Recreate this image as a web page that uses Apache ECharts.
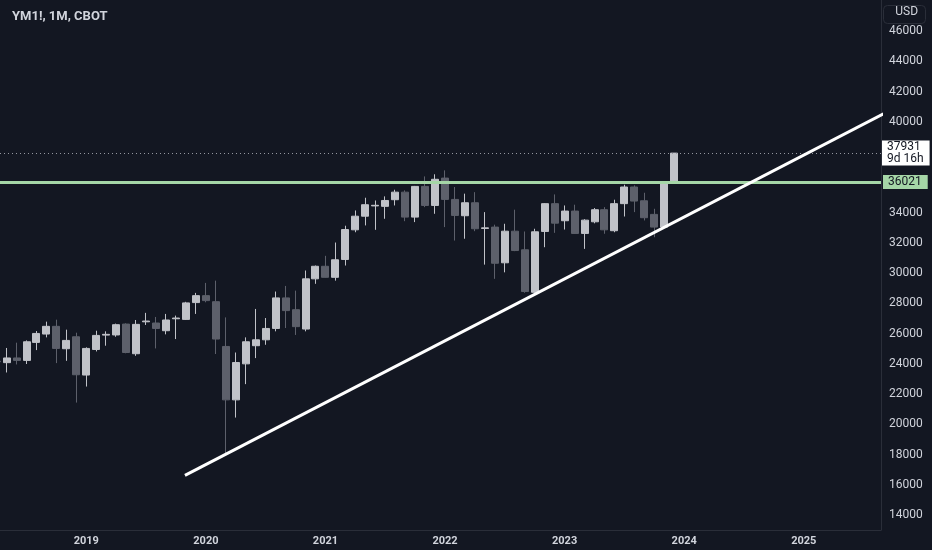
<!DOCTYPE html>
<html>
<head>
<meta charset="utf-8">
<script src="https://cdn.jsdelivr.net/npm/echarts@6/dist/echarts.min.js"></script>
<style>
html,body{margin:0;padding:0;background:#131722;}
#c{width:932px;height:550px;}
</style>
</head>
<body>
<div id="c"></div>
<script>
// ---- data (monthly candles, YM1! CBOT) ----
const months = ['2018-04','2018-05','2018-06','2018-07','2018-08','2018-09','2018-10','2018-11','2018-12',
'2019-01','2019-02','2019-03','2019-04','2019-05','2019-06','2019-07','2019-08','2019-09','2019-10','2019-11','2019-12',
'2020-01','2020-02','2020-03','2020-04','2020-05','2020-06','2020-07','2020-08','2020-09','2020-10','2020-11','2020-12',
'2021-01','2021-02','2021-03','2021-04','2021-05','2021-06','2021-07','2021-08','2021-09','2021-10','2021-11','2021-12',
'2022-01','2022-02','2022-03','2022-04','2022-05','2022-06','2022-07','2022-08','2022-09','2022-10','2022-11','2022-12',
'2023-01','2023-02','2023-03','2023-04','2023-05','2023-06','2023-07','2023-08','2023-09','2023-10','2023-11','2023-12'];
const openV  = [24180,24080,24390,24230,25420,25970,26480,25000,25790,
23260,24950,25900,25910,26630,24670,26780,26700,26190,26980,26940,28050,
28510,28110,25150,21620,24000,25200,25590,26340,28360,27580,26300,29620,
30450,29720,30900,32860,33760,34440,34410,34850,35350,33700,35730,34470,
36280,34870,33790,34650,32950,33040,30680,32770,31540,28730,32750,34590,
33460,34100,32620,33390,34190,32800,34590,35690,34780,33880,33040,35980];
const highV  = [24260,25050,25400,25550,26170,26790,26920,26260,26060,
25090,26190,26150,26660,26680,26900,27370,27100,27300,27190,28100,28690,
29350,29500,27070,24750,25750,27630,27030,28780,29150,28840,30170,30500,
31140,32020,33130,34140,34980,34800,35070,35510,35470,35760,36390,36530,
36790,35690,35250,35350,34030,33200,33260,34190,32750,32930,34620,35200,
34470,34520,33560,34300,34360,34850,35840,35800,35310,34250,36000,37931];
const lowV   = [24060,23430,23960,23990,24910,25750,24050,24200,21440,
22500,24820,25200,25790,24700,24530,26570,25020,25950,25640,26900,27300,
28070,24650,18020,20450,22660,24380,25260,26150,26370,25910,26150,29290,
29700,29500,30500,32700,33150,32860,33590,34470,33430,33370,34360,33920,
33040,32150,32270,32770,30560,29620,30050,31450,28700,28620,31710,32660,
32880,32600,31600,33290,32600,32700,33740,34030,33480,32370,33000,35900];
const closeV = [24140,24390,24230,25460,26010,26480,25020,25550,23280,
25020,25880,25950,26590,24750,26610,26830,26340,26900,27030,28030,28510,
28180,25640,21620,24090,25460,25590,26340,28360,27520,26460,29620,30450,
29720,30880,32880,33760,34520,34480,34800,35350,33700,35730,34470,36200,
34870,33810,34650,32930,32990,30650,32770,31490,28780,32730,34590,33300,
34100,32620,33500,34190,32860,34590,35690,34760,33660,33040,35980,37931];

const priceTicks = [14000,16000,18000,20000,22000,24000,26000,28000,30000,32000,34000,36000,38000,40000,42000,44000,46000];
const yearTicks = ['2019','2020','2021','2022','2023','2024','2025'];

const resistanceLevel = 36021;
const lastPrice = 37931;
const lastPriceCountdown = '9d 16h';
// trendline anchor points: months since 2019-01, price
const trendMonths = [9.9, 80];
const trendPrices = [16625, 40529];

function mIdx(s){ const p = s.split('-'); return (parseInt(p[0]) - 2019) * 12 + (parseInt(p[1]) - 1); }
const candleData = months.map((m, i) => [mIdx(m), openV[i], closeV[i], lowV[i], highV[i]]);
const yearIdx = yearTicks.map(y => (parseInt(y) - 2019) * 12);

const BULL = '#c0c2c8', BEAR = '#5d606b';
const chart = echarts.init(document.getElementById('c'), null, {renderer: 'canvas'});
chart.setOption({
  animation: false,
  backgroundColor: '#131722',
  textStyle: {fontFamily: 'Roboto'},
  title: {
    text: 'YM1!, 1M, CBOT', left: 7, top: 5,
    textStyle: {color: '#d1d4dc', fontSize: 13, fontWeight: 'bold', fontFamily: 'Roboto'}
  },
  grid: {left: 0, right: 51, top: 0, bottom: 20},
  xAxis: {
    type: 'value', min: -8.66, max: 79.75,
    axisLine: {show: true, onZero: false, lineStyle: {color: '#2a2e39', width: 1}},
    axisTick: {show: false},
    splitLine: {show: false},
    axisLabel: {
      customValues: yearIdx,
      formatter: v => String(2019 + Math.round(v / 12)),
      color: '#d1d4dc', fontSize: 11, fontWeight: 'bold', margin: 6, fontFamily: 'Roboto'
    }
  },
  yAxis: {
    type: 'value', position: 'right', min: 13018, max: 48051, scale: true,
    axisLine: {show: true, onZero: false, lineStyle: {color: '#2a2e39', width: 1}},
    axisTick: {show: false},
    splitLine: {show: false},
    axisLabel: {
      customValues: priceTicks,
      formatter: v => String(v),
      color: '#d1d4dc', fontSize: 12, margin: 8, fontFamily: 'Roboto'
    }
  },
  graphic: [
    {type: 'rect', right: 4, top: 3, shape: {width: 42, height: 18, r: 4},
     style: {fill: 'none', stroke: '#2a2e39', lineWidth: 1}},
    {type: 'text', right: 14, top: 6, style: {text: 'USD', fill: '#d1d4dc', fontSize: 12, fontFamily: 'Roboto'}}
  ],
  series: [
    {
      type: 'candlestick',
      data: candleData,
      encode: {x: 0, y: [1, 2, 3, 4]},
      barWidth: 7.5,
      itemStyle: {color: BULL, color0: BEAR, borderColor: BULL, borderColor0: BEAR, borderWidth: 1},
      markLine: {
        silent: true, symbol: ['none', 'none'],
        data: [
          {yAxis: lastPrice,
           lineStyle: {color: '#9598a1', type: [1, 3], width: 1},
           label: {show: true, position: 'end', distance: 1,
             formatter: lastPrice + '\n' + lastPriceCountdown,
             backgroundColor: '#ffffff', color: '#131722', fontSize: 12, lineHeight: 12,
             padding: [1, 6, 0, 5], fontFamily: 'Roboto', align: 'left'}},
          {yAxis: resistanceLevel,
           lineStyle: {color: '#a5d6a7', type: 'solid', width: 3},
           label: {show: true, position: 'end', distance: 2,
             formatter: String(resistanceLevel),
             backgroundColor: '#a5d6a7', color: '#131722', fontSize: 12, lineHeight: 13,
             padding: [1, 6, 0, 5], fontFamily: 'Roboto'}}
        ]
      }
    },
    {
      type: 'line',
      data: trendMonths.map((t, i) => [t, trendPrices[i]]),
      symbol: 'none',
      lineStyle: {color: '#ffffff', width: 3},
      clip: true,
      z: 5
    }
  ]
});
</script>
</body>
</html>
